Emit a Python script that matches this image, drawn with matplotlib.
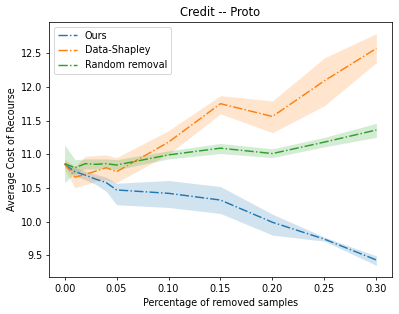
import matplotlib
matplotlib.use("Agg")
import matplotlib.pyplot as plt

x = [0.0, 0.01, 0.02, 0.03, 0.04, 0.05, 0.10, 0.15, 0.20, 0.25, 0.30]

ours_mean = [10.85, 10.74, 10.69, 10.63, 10.58, 10.47, 10.42, 10.32, 9.99, 9.74, 9.43]
ours_hi = [10.88, 10.80, 10.75, 10.70, 10.66, 10.57, 10.61, 10.52, 10.11, 9.77, 9.49]
ours_lo = [10.82, 10.68, 10.62, 10.55, 10.45, 10.25, 10.21, 10.12, 9.80, 9.71, 9.35]

shap_mean = [10.86, 10.66, 10.70, 10.75, 10.80, 10.74, 11.18, 11.75, 11.56, 12.09, 12.57]
shap_hi = [10.93, 10.82, 10.97, 10.98, 10.99, 10.95, 11.35, 11.87, 11.79, 12.43, 12.79]
shap_lo = [10.78, 10.50, 10.55, 10.60, 10.62, 10.58, 11.00, 11.60, 11.32, 11.72, 12.36]

rand_mean = [10.86, 10.80, 10.86, 10.85, 10.86, 10.84, 10.99, 11.09, 11.01, 11.18, 11.36]
rand_hi = [11.14, 10.92, 10.93, 10.93, 10.93, 10.92, 11.05, 11.16, 11.08, 11.25, 11.46]
rand_lo = [10.58, 10.72, 10.78, 10.78, 10.79, 10.77, 10.93, 11.01, 10.95, 11.11, 11.25]

labels = ["Ours", "Data-Shapley", "Random removal"]
colors = ["#1f77b4", "#ff7f0e", "#2ca02c"]

dpi = 69.1
fig = plt.figure(figsize=(399 / dpi, 314 / dpi), dpi=dpi)
ax = fig.add_axes([0.1228, 0.1178, 0.8596, 0.8121])

series = [(ours_mean, ours_lo, ours_hi), (shap_mean, shap_lo, shap_hi), (rand_mean, rand_lo, rand_hi)]
for (m, lo, hi), lab, c in zip(series, labels, colors):
    ax.plot(x, m, linestyle="-.", color=c, label=lab, linewidth=1.5)
    ax.fill_between(x, lo, hi, color=c, alpha=0.2, linewidth=0)

ax.set_title("Credit -- Proto")
ax.set_xlabel("Percentage of removed samples")
ax.set_ylabel("Average Cost of Recourse")
ax.legend(loc="upper left")

fig.savefig("out.png", dpi=dpi)
